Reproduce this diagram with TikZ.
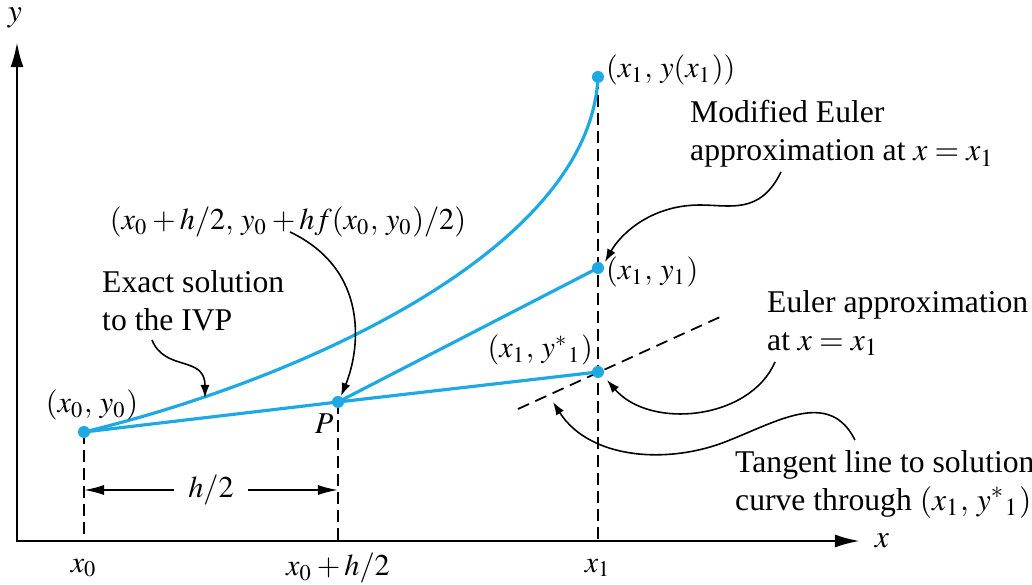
\documentclass[tikz,border=0pt]{standalone}
\usepackage{mathptmx}
\usepackage{fontspec}
\setmainfont{Liberation Serif}
\usetikzlibrary{arrows.meta}
\definecolor{solcyan}{HTML}{1EA8E4}

\begin{document}
\medmuskip=2.5mu\relax
\thinmuskip=4.5mu\relax
\begin{tikzpicture}[x=0.01cm,y=-0.01cm,
  every node/.style={font=\fontsize{9}{10.8}\selectfont, inner sep=1pt},
  mlbl/.style={font=\fontsize{8.6}{10}\selectfont},
  axis/.style={line width=0.75pt, {Latex[length=2.5mm,width=1.3mm]}-{Latex[length=2.5mm,width=1.3mm]}},
  guide/.style={line width=0.5pt, dash pattern=on 1.2mm off 0.6mm},
  curve/.style={solcyan, line width=0.9pt},
  pointer/.style={line width=0.45pt, -{Latex[length=1.3mm,width=0.9mm]}},
  dim/.style={line width=0.5pt, {Latex[length=2mm,width=1mm]}-{Latex[length=2mm,width=1mm]}},
  lbl/.style={align=left, anchor=north west}]
\useasboundingbox (0,0) rectangle (1032,585);

\coordinate (yend) at (17,42);
\coordinate (xend) at (860,541);
\coordinate (O) at (17,541);
\draw[axis] (yend) |- (xend);
\node (ylab) at (15,18) {$y$};
\node (xlab) at (882,541) {$x$};

\coordinate (A) at (84,432);
\coordinate (P) at (338,402);
\coordinate (E) at (598,372);
\coordinate (M) at (598,268);
\coordinate (X) at (598,77);

\node[mlbl] (tx0) at (84,568) {$x_0$};
\node[mlbl] (txh) at (338,568) {$x_0 + h/2$};
\node[mlbl] (tx1) at (598,568) {$x_1$};

\draw[guide] (A) -- (A |- O);
\draw[guide] (P) -- (P |- O);
\draw[guide] (X) -- (X |- O);
\draw[line width=0.5pt, dash pattern=on 1.2mm off 0.7mm] (518,409) coordinate (t1) -- (720,317) coordinate (t2);

\draw[curve] (A) .. controls (300,380) and (590,250) .. (X);
\draw[curve] (A) -- (P) -- (M);
\draw[curve] (P) -- (E);
\foreach \p in {A,P,E,M,X}
  \fill[solcyan] (\p) circle[radius=0.6mm];

\coordinate (hl) at (84,490);
\coordinate (hr) at (338,490);
\draw[dim] (hl) -- (hr) node[midway, fill=white, inner xsep=4pt, mlbl] (hlbl) {$h/2$};

\node[mlbl] (lA) at (92,405) {$(x_0, y_0)$};
\node[mlbl] (lP) at (324,424) {$P$};
\node[mlbl] (lmid) at (288,222) {$(x_0 + h/2, y_0 + hf(x_0, y_0)/2)$};
\node[mlbl, anchor=west] (lX) at (602,70) {$(x_1, y(x_1))$};
\node[mlbl, anchor=west] (lM) at (602,272) {$(x_1, y_1)$};
\node[mlbl, anchor=east] (lE) at (597,350) {$(x_1, y^{*}{}_1)$};

\node[lbl] (exact) at (98,266) {Exact solution\\to the IVP};
\node[lbl] (modif) at (686,96) {Modified Euler\\approximation at $x = x_1$};
\node[lbl] (euler) at (763,286) {Euler approximation\\at $x = x_1$};
\node[lbl] (tang) at (731,446) {Tangent line to solution\\curve through $(x_1, y^{*}{}_1)$};

\coordinate (exS) at (152,340);
\coordinate (exT) at (205,398);
\coordinate (miS) at (290,232);
\coordinate (miT) at (341,396);
\coordinate (moS) at (781,172);
\coordinate (moT) at (605,262);
\coordinate (euS) at (775,362);
\coordinate (euT) at (607,380);
\coordinate (taS) at (855,440);
\coordinate (taT) at (553,402);

\draw[pointer] (exS) .. controls (165,372) and (205,355) .. (exT);
\draw[pointer] (miS) .. controls (370,270) and (360,350) .. (miT);
\draw[pointer] (moS) .. controls (760,215) and (730,205) .. (700,205) .. controls (650,205) and (620,235) .. (moT);
\draw[pointer] (euS) .. controls (750,420) and (650,430) .. (euT);
\draw[pointer] (taS) .. controls (830,390) and (780,420) .. (730,440) .. controls (670,465) and (590,460) .. (taT);
\end{tikzpicture}
\end{document}
